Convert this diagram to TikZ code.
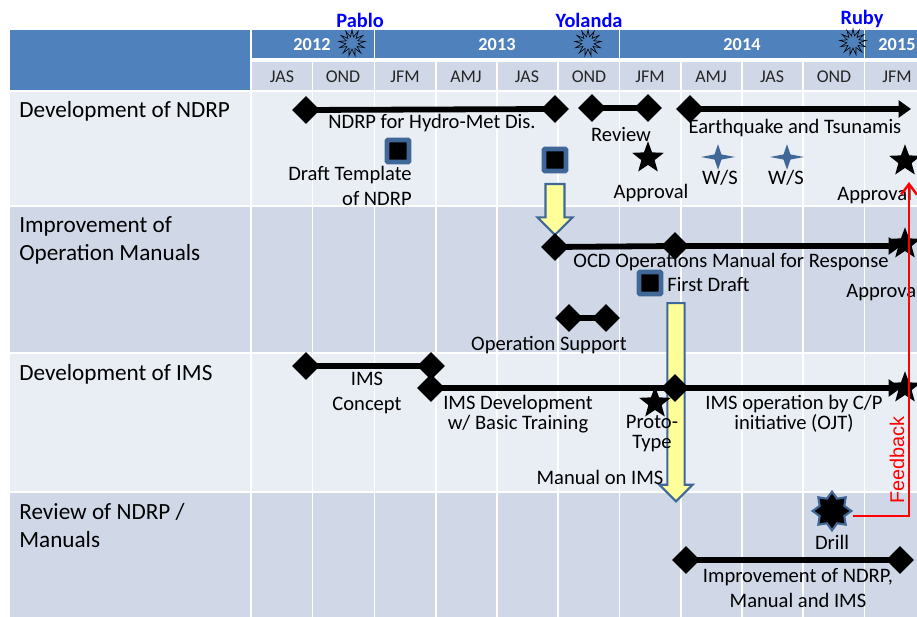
\documentclass[tikz,border=0pt]{standalone}
\usepackage{fontspec}
\setmainfont{Carlito}
\newfontfamily\arialfont{Liberation Sans}
\usetikzlibrary{shapes}
\usetikzlibrary{shapes.arrows}
\usetikzlibrary{shapes.symbols}
\usetikzlibrary{arrows.meta}
\definecolor{bandblue}{HTML}{4F81BD}
\definecolor{rowlight}{HTML}{E9EDF4}
\definecolor{rowdark}{HTML}{D0D8E8}
\definecolor{edgeblue}{HTML}{3F6797}
\definecolor{arrowyellow}{HTML}{FFFF99}
\tikzstyle{rowlabel}=[anchor=west,inner sep=0pt,align=left,yshift=-0.8pt,font=\fontsize{13.2}{15.8}\selectfont]
\tikzstyle{lab}=[inner sep=0pt,align=center,yshift=-0.8pt,font=\fontsize{11.7}{14.2}\selectfont]
\tikzstyle{labtight}=[inner sep=0pt,align=center,yshift=-0.8pt,font=\fontsize{11.7}{11.3}\selectfont]
\tikzstyle{month}=[inner sep=0pt,text=black!85,font=\fontsize{10.2}{11}\selectfont]
\tikzstyle{yearlab}=[inner sep=0pt,text=white,font=\fontsize{10.4}{11}\selectfont\bfseries]
\tikzstyle{storm}=[inner sep=0pt,text=blue,font=\fontsize{11.6}{12}\selectfont\bfseries]
\tikzstyle{burst}=[starburst,starburst points=13,starburst point height=4pt,random starburst=0,draw,line width=0.35pt,inner sep=0pt,minimum width=15pt,minimum height=15pt]
\tikzstyle{mile}=[diamond,fill=black,inner sep=0pt,minimum width=16pt,minimum height=16pt]
\tikzstyle{bar}=[line width=3.3pt]
\tikzstyle{arrowbar}=[line width=3.3pt,-{Triangle[length=7pt,width=9.5pt]}]
\tikzstyle{draft}=[rectangle,rounded corners=0.5pt,fill=black,draw=edgeblue,line width=2.6pt,inner sep=0pt,minimum size=12.5pt]
\tikzstyle{approve}=[star,star points=5,star point ratio=2.4,fill=black,inner sep=0pt,minimum size=19pt]
\tikzstyle{ws}=[star,star points=4,star point ratio=3.5,fill=edgeblue,inner sep=0pt,minimum size=14.5pt,xscale=1.33]
\tikzstyle{flow}=[single arrow,draw=edgeblue,line width=1.2pt,fill=arrowyellow,shape border rotate=270,anchor=north,single arrow head extend=4.5pt,single arrow tip angle=90]
\begin{document}
\begin{tikzpicture}[x=0.02cm,y=-0.02cm]
\clip (0,0) rectangle (917,617);
\fill[white] (0,0) rectangle (917,617);
%Table
\fill[bandblue] (10,30) rectangle (250,90);
\fill[bandblue] (252,30) rectangle (917,58);
\fill[rowdark] (252,62) rectangle (917,90);
\fill[rowlight] (10,92) rectangle (917,205);
\fill[rowdark] (10,207) rectangle (917,352);
\fill[rowlight] (10,354) rectangle (917,491);
\fill[rowdark] (10,493) rectangle (917,617);
\foreach \x in {251,312.5,374.5,436,497,558,619.5,681,742,803,864.5}
  \draw[white,line width=0.9pt] (\x,62) -- (\x,617);
\foreach \x in {374.5,619.5,864.5}
  \draw[white,line width=0.9pt] (\x,30) -- (\x,58);
%Years and quarters
\node[yearlab] (y2012) at (312,45) {2012};
\node[yearlab] (y2013) at (497,45) {2013};
\node[yearlab] (y2014) at (742,45) {2014};
\node[yearlab] (y2015) at (897,45) {2015};
\foreach \x/\q/\n in {282/JAS/a,343/OND/b,405/JFM/c,466/AMJ/d,527/JAS/e,589/OND/f,650/JFM/g,711/AMJ/h,772/JAS/i,834/OND/j,897/JFM/k}
  \node[month] (q\n) at (\x,77) {\q};
%Storms
\node[storm] (pablo) at (360,20) {Pablo};
\node[storm] (yolanda) at (589,20) {Yolanda};
\node[storm] (ruby) at (862,19) {Ruby};
\node[burst] (bpablo) at (352,43) {};
\node[burst] (byolanda) at (588,43) {};
\node[burst] (bruby) at (853,42) {};
%Row labels
\node[rowlabel] (r1) at (19,110) {Development of NDRP};
\node[rowlabel] (r2) at (19,239) {Improvement of\\Operation Manuals};
\node[rowlabel] (r3) at (19,373) {Development of IMS};
\node[rowlabel] (r4) at (19,524) {Review of NDRP /\\Manuals};
%Yellow arrows
\node[flow,inner sep=4.8pt,minimum height=51pt*0.567,minimum width=35pt*0.567] (down1) at (555,183) {};
\node[flow,inner sep=4.3pt,minimum height=199pt*0.567,minimum width=33pt*0.567] (down2) at (676,302) {};
%Development of NDRP
\node[mile] (a1) at (306,110) {};
\node[mile] (a2) at (555,109) {};
\node[mile] (a3) at (592,108) {};
\node[mile] (a4) at (648,108) {};
\node[mile] (a5) at (690,109) {};
\coordinate (a6) at (911,109);
\draw[bar] (a1.center) -- (a2.center);
\draw[bar] (a3.center) -- (a4.center);
\draw[arrowbar] (a5.center) -- (a6);
\node[lab] (t1) at (432,122) {NDRP for Hydro-Met Dis.};
\node[lab] (t2) at (621,133.5) {Review};
\node[lab] (t3) at (795,127) {Earthquake and Tsunamis};
\node[draft] (d1) at (398,151) {};
\node[draft] (d2) at (555,160) {};
\node[lab,align=right,anchor=east] (t4) at (412,185) {Draft Template\\of NDRP};
\node[approve] (s1) at (648,158) {};
\node[lab] (t5) at (651,192) {Approval};
\node[ws] (w1) at (718,157) {};
\node[ws] (w2) at (787,157) {};
\node[lab] (t6) at (720,176) {W/S};
\node[lab] (t7) at (786,176) {W/S};
\node[approve] (s2) at (905,161) {};
\node[lab,anchor=west] (t8) at (837,194) {Approval};
%Operation manuals
\node[mile] (b1) at (555,247) {};
\node[mile] (b2) at (675,246) {};
\coordinate (b3) at (901,246);
\draw[bar] (b1.center) -- (b2.center);
\draw[arrowbar] (b2.center) -- (b3);
\node[approve] (s3) at (905,244) {};
\node[lab] (t9) at (731,261) {OCD Operations Manual for Response};
\node[draft] (d3) at (650,283) {};
\node[lab,anchor=west] (t10) at (667,283) {First Draft};
\node[lab,anchor=west] (t11) at (846,291) {Approval};
\node[mile] (b4) at (569,318) {};
\node[mile] (b5) at (606,318) {};
\draw[bar] (b4.center) -- (b5.center);
\node[lab] (t12) at (549,344) {Operation Support};
%IMS
\node[mile] (c1) at (306,366) {};
\node[mile] (c2) at (431,366) {};
\draw[bar] (c1.center) -- (c2.center);
\node[mile] (c3) at (431,388) {};
\node[mile] (c4) at (675,388) {};
\coordinate (c5) at (901,388);
\draw[bar] (c3.center) -- (c4.center);
\draw[arrowbar] (c4.center) -- (c5);
\node[approve] (s4) at (905,388) {};
\node[approve] (s5) at (655,403) {};
\node[lab] (t13) at (367,392) {IMS\\Concept};
\node[labtight] (t14) at (518,413) {IMS Development\\w/ Basic Training};
\node[labtight] (t15) at (652,432) {Proto-\\Type};
\node[lab] (t16) at (600,476) {Manual on IMS};
\node[labtight] (t17) at (794,412) {IMS operation by C/P\\initiative (OJT)};
%Review
\coordinate (fbcorner) at (909,516);
\coordinate (fb) at (909,182);
\node[star,star points=8,star point ratio=1.45,fill=black,draw=edgeblue,line width=1.2pt,inner sep=0pt,minimum size=22pt] (drill) at (832,511) {};
\draw[red,line width=1.4pt,-{Straight Barb[length=6pt,width=9pt]}] (drill.east |- fbcorner) -- (fbcorner) -- (fb);
\node[lab] (t18) at (832,541) {Drill};
\node[mile] (e1) at (686,560) {};
\node[mile] (e2) at (900,560) {};
\draw[bar] (e1.center) -- (e2.center);
\node[lab] (t19) at (798,587) {Improvement of NDRP,\\Manual and IMS};
%Feedback
\node[text=red,rotate=90,inner sep=0pt,font=\arialfont\fontsize{11.3}{13}\selectfont] (t20) at (897,460) {Feedback};
\end{tikzpicture}
\end{document}
